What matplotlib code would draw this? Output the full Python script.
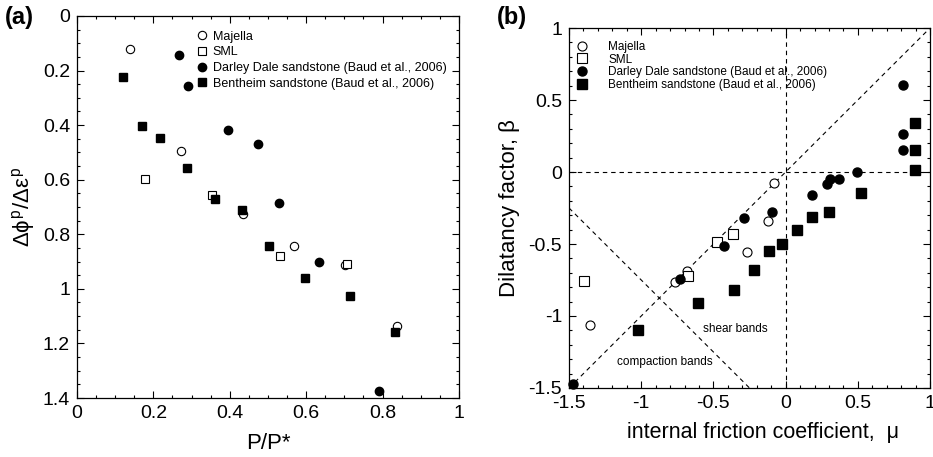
import matplotlib
matplotlib.use('Agg')
import matplotlib.pyplot as plt
from matplotlib.ticker import MultipleLocator

plt.rcParams['font.family'] = ['Liberation Sans', 'DejaVu Sans']
plt.rcParams['mathtext.fontset'] = 'custom'
plt.rcParams['mathtext.rm'] = 'Liberation Sans'
plt.rcParams['mathtext.it'] = 'Liberation Sans'

# ---- panel (a) data: P/P* vs dphi/deps ----
maj_a_x = [0.138, 0.272, 0.435, 0.568, 0.703, 0.838]
maj_a_y = [0.122, 0.493, 0.725, 0.844, 0.912, 1.137]
sml_a_x = [0.179, 0.354, 0.532, 0.708]
sml_a_y = [0.597, 0.657, 0.878, 0.910]
dd_a_x = [0.266, 0.291, 0.396, 0.475, 0.529, 0.633, 0.790]
dd_a_y = [0.143, 0.256, 0.417, 0.469, 0.686, 0.901, 1.375]
bh_a_x = [0.121, 0.170, 0.217, 0.289, 0.361, 0.433, 0.503, 0.596, 0.716, 0.833]
bh_a_y = [0.224, 0.403, 0.448, 0.558, 0.671, 0.712, 0.843, 0.960, 1.026, 1.158]

# ---- panel (b) data: mu vs beta ----
maj_b_x = [-0.078, -0.124, -0.267, -0.685, -0.764, -1.352]
maj_b_y = [-0.074, -0.342, -0.556, -0.685, -0.764, -1.065]
sml_b_x = [-0.362, -0.475, -0.674, -1.398]
sml_b_y = [-0.433, -0.488, -0.722, -0.757]
dd_b_x = [0.815, 0.815, 0.815, 0.492, 0.370, 0.307, 0.287, 0.185, -0.096, -0.288, -0.424, -0.729, -1.472]
dd_b_y = [0.604, 0.266, 0.151, 0.0, -0.046, -0.046, -0.085, -0.162, -0.280, -0.322, -0.516, -0.745, -1.47]
bh_b_x = [0.896, 0.896, 0.896, 0.520, 0.303, 0.181, 0.079, -0.024, -0.115, -0.221, -0.359, -0.609, -1.024]
bh_b_y = [0.342, 0.151, 0.014, -0.146, -0.275, -0.310, -0.400, -0.502, -0.547, -0.681, -0.817, -0.908, -1.095]

# guide lines in panel (b)
shear_line_x = [-1.5, 1.0]
shear_line_y = [-1.5, 1.0]
comp_line_x = [-1.5, -0.25]
comp_line_y = [-0.25, -1.5]

labels = ['Majella', 'SML', 'Darley Dale sandstone (Baud et al., 2006)',
          'Bentheim sandstone (Baud et al., 2006)']

fig = plt.figure(figsize=(9.33, 4.57), dpi=100)
ax1 = fig.add_axes([0.0825, 0.1291, 0.4094, 0.8359])
ax2 = fig.add_axes([0.6099, 0.151, 0.3869, 0.7877])


def style_axis(ax):
    ax.tick_params(which='both', direction='in', top=True, right=True,
                   labelsize=14, width=0.8)
    ax.tick_params(which='major', length=5, pad=5)
    ax.tick_params(which='minor', length=2.5)
    for s in ax.spines.values():
        s.set_linewidth(0.9)


def draw_sets(ax, sets, ms, clip=True):
    mk = [dict(marker='o', mfc='white', mec='black', mew=0.8, ms=ms),
          dict(marker='s', mfc='white', mec='black', mew=0.8, ms=ms),
          dict(marker='o', mfc='black', mec='black', ms=ms),
          dict(marker='s', mfc='black', mec='black', ms=ms)]
    for (x, y), m, lab in zip(sets, mk, labels):
        ax.plot(x, y, ls='none', label=lab, clip_on=clip, zorder=3, **m)


# ---- panel (a) ----
draw_sets(ax1, [(maj_a_x, maj_a_y), (sml_a_x, sml_a_y),
                (dd_a_x, dd_a_y), (bh_a_x, bh_a_y)], ms=6, clip=False)
ax1.set_xlim(0, 1)
ax1.set_ylim(1.4, 0)
ax1.set_xticks([0, 0.2, 0.4, 0.6, 0.8, 1.0])
ax1.set_xticklabels(['0', '0.2', '0.4', '0.6', '0.8', '1'])
ax1.set_yticks([0, 0.2, 0.4, 0.6, 0.8, 1.0, 1.2, 1.4])
ax1.set_yticklabels(['0', '0.2', '0.4', '0.6', '0.8', '1', '1.2', '1.4'])
ax1.xaxis.set_minor_locator(MultipleLocator(0.05))
ax1.yaxis.set_minor_locator(MultipleLocator(0.05))
style_axis(ax1)
ax1.set_xlabel('P/P*', fontsize=16, labelpad=8)
ax1.set_ylabel(r'$\Delta\phi^{\rm p}/\Delta\varepsilon^{\rm p}$', fontsize=16, labelpad=4)
ax1.legend(loc='upper left', bbox_to_anchor=(0.31, 0.9615), frameon=False,
           fontsize=9, handlelength=1.0, handletextpad=0.4, labelspacing=0.29,
           borderaxespad=0, borderpad=0)
fig.text(0.005, 0.962, '(a)', fontsize=17, fontweight='bold', va='center')

# ---- panel (b) ----
ax2.plot(shear_line_x, shear_line_y, color='black', lw=0.8, dashes=(4, 3.5))
ax2.plot(comp_line_x, comp_line_y, color='black', lw=0.8, dashes=(4, 3.5))
ax2.axhline(0, color='black', lw=0.8, dashes=(4, 3.5))
ax2.axvline(0, color='black', lw=0.8, dashes=(4, 3.5))
draw_sets(ax2, [(maj_b_x, maj_b_y), (sml_b_x, sml_b_y),
                (dd_b_x, dd_b_y), (bh_b_x, bh_b_y)], ms=6.5, clip=False)
ax2.text(-0.35, -1.09, 'shear bands', fontsize=8.5, ha='center', va='center')
ax2.text(-0.84, -1.32, 'compaction bands', fontsize=8.5, ha='center', va='center')
ax2.set_xlim(-1.5, 1)
ax2.set_ylim(-1.5, 1)
ax2.set_xticks([-1.5, -1, -0.5, 0, 0.5, 1])
ax2.set_xticklabels(['-1.5', '-1', '-0.5', '0', '0.5', '1'])
ax2.set_yticks([-1.5, -1, -0.5, 0, 0.5, 1])
ax2.set_yticklabels(['-1.5', '-1', '-0.5', '0', '0.5', '1'])
ax2.xaxis.set_minor_locator(MultipleLocator(0.1))
ax2.yaxis.set_minor_locator(MultipleLocator(0.1))
style_axis(ax2)
ax2.set_xlabel('internal friction coefficient,  \u03bc', fontsize=15.5, labelpad=6)
ax2.xaxis.set_label_coords(0.537, -0.095)
ax2.set_ylabel('Dilatancy factor, \u03b2', fontsize=16, labelpad=6)
ax2.legend(loc='upper left', bbox_to_anchor=(0.02, 0.964), frameon=False,
           fontsize=8.5, handlelength=1.0, handletextpad=1.7, labelspacing=0.05,
           borderaxespad=0, borderpad=0)
fig.text(0.533, 0.962, '(b)', fontsize=17, fontweight='bold', va='center')

fig.savefig('out.png', dpi=100)
